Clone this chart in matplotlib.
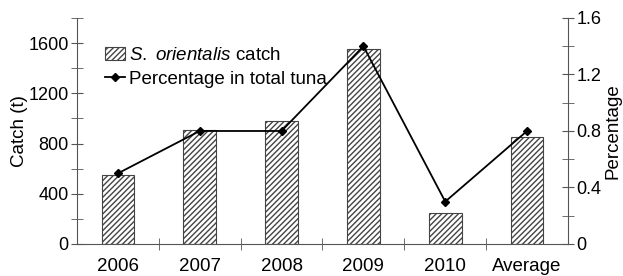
import matplotlib
matplotlib.use("Agg")
import matplotlib.pyplot as plt
import numpy as np
from matplotlib.ticker import MultipleLocator, FixedLocator

plt.rcParams['font.family'] = ['Liberation Sans', 'DejaVu Sans']
plt.rcParams['mathtext.fontset'] = 'custom'
plt.rcParams['mathtext.rm'] = 'Liberation Sans'
plt.rcParams['mathtext.it'] = 'Liberation Sans:italic'
plt.rcParams['hatch.linewidth'] = 1.0

categories = ['2006', '2007', '2008', '2009', '2010', 'Average']
catch = [550, 910, 980, 1555, 250, 850]
percentage = [0.5, 0.8, 0.8, 1.4, 0.3, 0.8]

fs = 13.5
fsy = 13
axcol = '#555555'
fig = plt.figure(figsize=(6.23, 2.76), dpi=100)
ax = fig.add_axes([0.1236, 0.116, 0.7881, 0.8188])
x = np.arange(len(categories))
bars = ax.bar(x, catch, width=0.4, color='white', edgecolor='#444444',
              hatch='//////', linewidth=0.8, zorder=2)
ax.set_xlim(-0.5, len(categories) - 0.5)
ax.set_ylim(0, 1800)
ax.set_xticks(x)
ax.set_xticklabels(categories, fontsize=fs)
ax.xaxis.set_minor_locator(FixedLocator(np.arange(0.5, len(categories) - 0.5, 1)))
ax.tick_params(axis='x', which='major', length=0, pad=10)
ax.tick_params(axis='x', which='minor', direction='inout', length=8, color=axcol)
ax.yaxis.set_major_locator(MultipleLocator(400))
ax.yaxis.set_minor_locator(MultipleLocator(200))
ax.tick_params(axis='y', which='both', direction='inout', length=8, color=axcol, labelsize=fsy, pad=2)
ax.set_ylabel('Catch (t)', fontsize=fs)
ax.yaxis.set_label_coords(-0.1, 0.5)
for s in ['top', 'right']:
    ax.spines[s].set_visible(False)
for s in ['left', 'bottom']:
    ax.spines[s].set_color(axcol)

ax2 = ax.twinx()
line, = ax2.plot(x, percentage, color='black', marker='D', markersize=4.5,
                 linewidth=1.3, zorder=3)
ax2.set_ylim(0, 1.6)
ax2.yaxis.set_major_locator(FixedLocator([0, 0.4, 0.8, 1.2, 1.6]))
ax2.yaxis.set_minor_locator(MultipleLocator(0.2))
ax2.set_yticklabels(['0', '0.4', '0.8', '1.2', '1.6'])
ax2.tick_params(axis='y', which='both', direction='inout', length=8, color=axcol, labelsize=fsy, pad=2)
ax2.set_ylabel('Percentage', fontsize=fs, labelpad=2)
for s in ['top', 'left', 'bottom']:
    ax2.spines[s].set_visible(False)
ax2.spines['right'].set_color(axcol)

leg = ax2.legend([bars, line], [r'$\it{S.\ orientalis}$ catch', 'Percentage in total tuna'],
                 loc='upper left', bbox_to_anchor=(0.041, 0.905), frameon=False, fontsize=fs,
                 handlelength=1.1, handletextpad=0.2, borderaxespad=0, labelspacing=0.35)

fig.savefig('out.png', dpi=100)
